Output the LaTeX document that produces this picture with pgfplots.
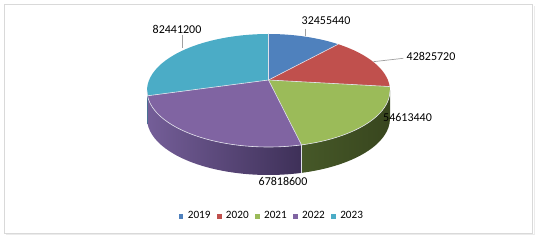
\documentclass[border=0pt]{standalone}
\usepackage{fontspec}
\setmainfont{Carlito}
\usepackage{pgfplots}
\usepackage{pgfplotstable}
\pgfplotsset{compat=1.18}

\definecolor{c2019}{RGB}{79,129,189}
\definecolor{c2020}{RGB}{192,80,77}
\definecolor{c2021}{RGB}{155,187,89}
\definecolor{c2022}{RGB}{128,100,162}
\definecolor{c2023}{RGB}{75,172,198}
\definecolor{s2019L}{RGB}{50,85,130}
\definecolor{s2019R}{RGB}{40,70,110}
\definecolor{s2020L}{RGB}{130,50,48}
\definecolor{s2020R}{RGB}{110,40,38}
\definecolor{s2021L}{RGB}{70,88,40}
\definecolor{s2021R}{RGB}{56,70,30}
\definecolor{s2022L}{RGB}{116,94,152}
\definecolor{s2022R}{RGB}{62,48,88}
\definecolor{s2023L}{RGB}{52,125,146}
\definecolor{s2023R}{RGB}{48,115,135}
\definecolor{edgecol}{RGB}{225,225,235}
\definecolor{leadcol}{RGB}{160,160,160}
\definecolor{framecol}{RGB}{217,217,217}

\pgfplotstableread{
year value
2019 32455440
2020 42825720
2021 54613440
2022 67818600
2023 82441200
}\piedata

\newcommand\lf{\fontsize{12}{14}\selectfont}

% geometry of the projected pie (in px units, y up)
\def\kk{0.186}
\def\cx{268.5}
\def\cy{150.5}
\def\rx{121.5}
\def\ry{56.5}
\def\dd{28}
\edef\pcy{\fpeval{\cy+\kk*\ry}}

\def\idx#1{\ifcase#1 A\or B\or C\or D\or E\or F\fi}

\newcommand\setpsi[2]{%
  \edef\tmpphi{#2}%
  \edef\tmpraw{\fpeval{atand((sind(\tmpphi)+\kk)/(1+\kk*sind(\tmpphi)), cosd(\tmpphi)*sqrt(1-\kk*\kk)/(1+\kk*sind(\tmpphi)))}}%
  \expandafter\xdef\csname psi#1\endcsname{\fpeval{round(\tmpraw+360*round((\tmpphi-\tmpraw)/360),4)}}%
}

\gdef\total{0}
\pgfplotsforeachungrouped \i in {0,...,4}{%
  \pgfplotstablegetelem{\i}{value}\of\piedata
  \expandafter\xdef\csname val\idx{\i}\endcsname{\pgfplotsretval}%
  \xdef\total{\fpeval{\total+\pgfplotsretval}}%
}
\gdef\cum{0}
\setpsi{A}{90}
\pgfplotsforeachungrouped \i in {0,...,4}{%
  \xdef\cum{\fpeval{\cum+\csname val\idx{\i}\endcsname}}%
  \setpsi{\idx{\numexpr\i+1\relax}}{\fpeval{90-360*\cum/\total}}%
}
\pgfplotsforeachungrouped \i in {0,...,4}{%
  \expandafter\xdef\csname hi\idx{\i}\endcsname{\fpeval{min(\csname psi\idx{\i}\endcsname,0)}}%
  \expandafter\xdef\csname lo\idx{\i}\endcsname{\fpeval{max(\csname psi\idx{\numexpr\i+1\relax}\endcsname,-180)}}%
  \expandafter\xdef\csname vis\idx{\i}\endcsname{\fpeval{\csname lo\idx{\i}\endcsname<\csname hi\idx{\i}\endcsname}}%
}

\newcommand\topslice[3]{%
  \fill[#3] (axis cs:\cx,\pcy) -- (axis cs:{\cx+\rx*cos(#1)},{\cy+\ry*sin(#1)})
    arc[start angle=#1, end angle=#2, x radius=\rx pt, y radius=\ry pt] -- cycle;}
\newcommand\sidewall[4]{%
  \shade[left color=#3, right color=#4] (axis cs:{\cx+\rx*cos(#1)},{\cy+\ry*sin(#1)})
    arc[start angle=#1, end angle=#2, x radius=\rx pt, y radius=\ry pt]
    -- ++(0pt,-\dd pt)
    arc[start angle=#2, end angle=#1, x radius=\rx pt, y radius=\ry pt] -- cycle;}
\newcommand\spoke[1]{%
  \draw[edgecol, line width=0.6pt] (axis cs:\cx,\pcy) -- (axis cs:{\cx+\rx*cos(#1)},{\cy+\ry*sin(#1)});}
\newcommand\vedge[1]{%
  \draw[edgecol, line width=0.6pt] (axis cs:{\cx+\rx*cos(#1)},{\cy+\ry*sin(#1)}) -- ++(0pt,-\dd pt);}

\begin{document}
\begin{tikzpicture}
\begin{axis}[
  x=1pt, y=1pt,
  xmin=0, xmax=540, ymin=0, ymax=241,
  hide axis, clip=false,
  legend columns=5,
  legend image code/.code={\fill[#1] (0pt,-1.75pt) rectangle (3.5pt,1.75pt);},
  legend style={draw=none, fill=none, at={(axis cs:272,25)}, anchor=center,
    font=\fontsize{11.2}{13}\selectfont,
    /tikz/every odd column/.append style={column sep=3pt},
    /tikz/every even column/.append style={column sep=4.5pt}},
]
\addlegendimage{c2019}\addlegendentry{2019}
\addlegendimage{c2020}\addlegendentry{2020}
\addlegendimage{c2021}\addlegendentry{2021}
\addlegendimage{c2022}\addlegendentry{2022}
\addlegendimage{c2023}\addlegendentry{2023}

% frame
\draw[black!8, line width=1pt] (axis cs:6,6.5) -- (axis cs:534,6.5) -- (axis cs:534,235);
\draw[framecol, line width=0.8pt] (axis cs:4.5,236.5) rectangle (axis cs:532.5,8);

% side walls (front half only)
\ifnum\visA=1 \sidewall{\hiA}{\loA}{s2019L}{s2019R}\fi
\ifnum\visB=1 \sidewall{\hiB}{\loB}{s2020L}{s2020R}\fi
\ifnum\visC=1 \sidewall{\hiC}{\loC}{s2021L}{s2021R}\fi
\ifnum\visD=1 \sidewall{\hiD}{\loD}{s2022L}{s2022R}\fi
\ifnum\visE=1 \sidewall{\hiE}{\loE}{s2023L}{s2023R}\fi

% top faces
\topslice{\psiA}{\psiB}{c2019}
\topslice{\psiB}{\psiC}{c2020}
\topslice{\psiC}{\psiD}{c2021}
\topslice{\psiD}{\psiE}{c2022}
\topslice{\psiE}{\psiF}{c2023}

% edges
\draw[edgecol, line width=0.6pt] (axis cs:{\cx+\rx},\cy) arc[start angle=0, end angle=-180, x radius=\rx pt, y radius=\ry pt];
\spoke{\psiA}\spoke{\psiB}\spoke{\psiC}\spoke{\psiD}\spoke{\psiE}
\ifnum\visC=1 \vedge{\loC}\fi

% leader lines
\draw[leadcol, line width=0.7pt] (axis cs:182.5,206) -- (axis cs:182.5,193);
\draw[leadcol, line width=0.7pt] (axis cs:305.5,212.3) -- (axis cs:305.5,204.7);
\draw[leadcol, line width=0.7pt] (axis cs:373.3,179.3) -- (axis cs:403.3,182.7);

% data labels
\node[font=\lf, inner sep=0pt] at (axis cs:326,220) {\valA};
\node[font=\lf, inner sep=0pt] at (axis cs:431,185) {\valB};
\node[font=\lf, inner sep=0pt] at (axis cs:407.5,124) {\valC};
\node[font=\lf, inner sep=0pt] at (axis cs:283,60) {\valD};
\node[font=\lf, inner sep=0pt] at (axis cs:177,212) {\valE};
\end{axis}
\pgfresetboundingbox
\path (current axis.south west) rectangle (current axis.north east);
\end{tikzpicture}
\end{document}
